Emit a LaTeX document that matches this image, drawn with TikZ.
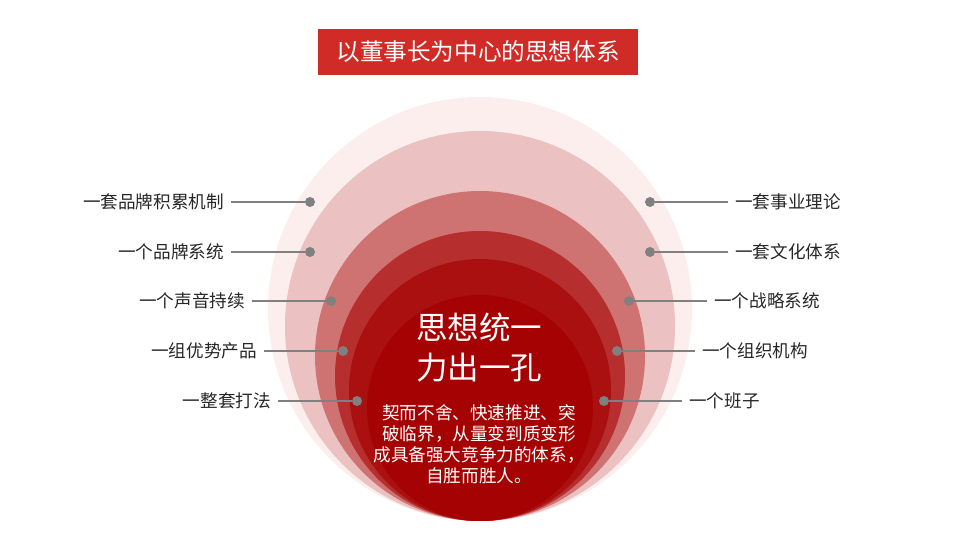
\documentclass[tikz,border=0pt]{standalone}
\usepackage{fontspec}
\usetikzlibrary{positioning}
\newfontfamily\cjk{Noto Sans CJK SC}
\definecolor{ringa}{HTML}{FDEEEE}
\definecolor{ringb}{HTML}{EBC1C1}
\definecolor{ringc}{HTML}{CF7272}
\definecolor{ringd}{HTML}{B72E2E}
\definecolor{ringe}{HTML}{AA1010}
\definecolor{ringf}{HTML}{A50303}
\definecolor{titlered}{HTML}{D12B27}
\definecolor{leadgray}{HTML}{808080}
\definecolor{labtext}{HTML}{262626}

\begin{document}
\begin{tikzpicture}[
      x=1pt, y=1pt,
      every node/.style={font=\cjk},
      lab/.style={font=\cjk\fontsize{17.6}{20}\selectfont, text=labtext, inner sep=0pt, outer sep=7pt},
      ldot/.style={circle, fill=leadgray, inner sep=0pt, minimum size=10pt},
      leader/.style={draw=leadgray, line width=2.2pt},
      tbox/.style={fill=titlered, text=white, minimum width=320pt, minimum height=46pt,
                   font=\cjk\fontsize{23.6}{26}\selectfont},
    ]
    \useasboundingbox (0,0) rectangle (960,540);

    % rings, tangent at the bottom
    \fill[ringa] (480,231) circle (212);
    \fill[ringb] (480,214) circle (195);
    \fill[ringc] (480,184) circle (165);
    \fill[ringd] (480,164) circle (145);
    \fill[ringe] (480,150) circle (131);
    \fill[ringf] (480,132) circle (113);

    \node[tbox] (title) at (478,488) {以董事长为中心的思想体系};

    \node[text=white, align=center, font=\cjk\fontsize{31.5}{40}\selectfont] (core) at (479,192)
      {思想统一\\力出一孔};
    \node[text=white, align=center, font=\cjk\fontsize{17.6}{21}\selectfont] (desc) at (479,96)
      {契而不舍、快速推进、突\\破临界，从量变到质变形\\成具备强大竞争力的体系，\\自胜而胜人。};

    % left side
    \node[ldot] (ld1) at (310,338) {};
    \node[ldot] (ld2) at (310,288) {};
    \node[ldot] (ld3) at (331,239) {};
    \node[ldot] (ld4) at (343,189) {};
    \node[ldot] (ld5) at (357,139) {};
    \node[lab, left=74pt of ld1] (lt1) {一套品牌积累机制};
    \node[lab, left=74pt of ld2] (lt2) {一个品牌系统};
    \node[lab, left=74pt of ld3] (lt3) {一个声音持续};
    \node[lab, left=74pt of ld4] (lt4) {一组优势产品};
    \node[lab, left=74pt of ld5] (lt5) {一整套打法};

    % right side
    \node[ldot] (rd1) at (650,338) {};
    \node[ldot] (rd2) at (650,288) {};
    \node[ldot] (rd3) at (629,239) {};
    \node[ldot] (rd4) at (617,189) {};
    \node[ldot] (rd5) at (604,139) {};
    \node[lab, right=73pt of rd1] (rt1) {一套事业理论};
    \node[lab, right=73pt of rd2] (rt2) {一套文化体系};
    \node[lab, right=73pt of rd3] (rt3) {一个战略系统};
    \node[lab, right=73pt of rd4] (rt4) {一个组织机构};
    \node[lab, right=73pt of rd5] (rt5) {一个班子};

    \draw[leader] (lt1) -- (ld1);
    \draw[leader] (lt2) -- (ld2);
    \draw[leader] (lt3) -- (ld3);
    \draw[leader] (lt4) -- (ld4);
    \draw[leader] (lt5) -- (ld5);
    \draw[leader] (rd1) -- (rt1);
    \draw[leader] (rd2) -- (rt2);
    \draw[leader] (rd3) -- (rt3);
    \draw[leader] (rd4) -- (rt4);
    \draw[leader] (rd5) -- (rt5);
  \end{tikzpicture}
\end{document}
